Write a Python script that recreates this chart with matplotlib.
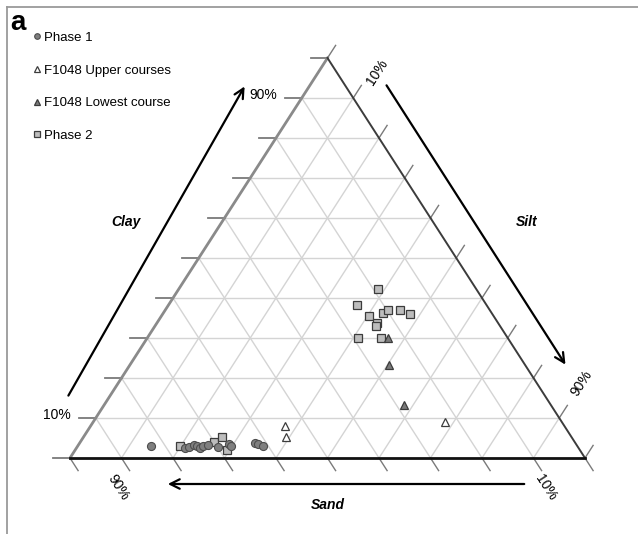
import numpy as np
import matplotlib
matplotlib.use("Agg")
import matplotlib.pyplot as plt
from matplotlib.lines import Line2D

plt.rcParams['font.family'] = ['Liberation Sans', 'DejaVu Sans']

# compositions in % (clay, silt, sand)
phase1_clay = [3.0, 2.4, 2.7, 3.2, 3.0, 2.4, 3.1, 3.3, 2.8, 3.5, 2.9, 3.8, 3.4, 3.0]
phase1_silt = [14.2, 21.1, 21.8, 22.4, 23.2, 24.0, 24.3, 25.2, 27.4, 29.1, 29.8, 34.1, 34.9, 35.9]
phase1_sand = [82.8, 76.5, 75.5, 74.4, 73.8, 73.6, 72.6, 71.5, 69.8, 67.4, 67.3, 62.1, 61.7, 61.1]

upper_clay = [8.0, 5.2, 9.0]
upper_silt = [37.8, 39.3, 68.3]
upper_sand = [54.2, 55.5, 22.7]

lowest_clay = [30.0, 23.3, 13.3]
lowest_silt = [46.7, 50.3, 58.3]
lowest_sand = [23.3, 26.4, 28.4]

phase2_clay = [3.1, 4.1, 5.3, 1.9, 42.3, 38.2, 35.5, 36.2, 37.1, 37.1, 36.0, 33.7, 33.1, 30.1, 29.9]
phase2_silt = [19.9, 25.9, 26.8, 29.5, 38.7, 36.6, 40.4, 42.6, 43.2, 45.6, 48.0, 42.7, 42.8, 40.8, 45.4]
phase2_sand = [77.0, 70.0, 67.9, 68.6, 19.0, 25.2, 24.1, 21.2, 19.7, 17.3, 16.0, 23.6, 24.1, 29.1, 24.7]


def tern(clay, silt, sand):
    clay = np.asarray(clay, float)
    silt = np.asarray(silt, float)
    sand = np.asarray(sand, float)
    tot = clay + silt + sand
    x = silt / tot + 0.5 * clay / tot
    y = clay / tot
    return x, y


W, H = 638, 534
fig = plt.figure(figsize=(W / 100, H / 100), dpi=100)
# triangle spans px 70..585 horizontally and 58..458 vertically
ax = fig.add_axes([70 / W, (H - 458) / H, 515 / W, 400 / H])
ax.set_xlim(0, 1)
ax.set_ylim(0, 1)
ax.axis('off')

grid_c = '#d4d4d4'
tick_c = '#7a7a7a'
tl = 0.0315  # tick length along slanted directions
for k in np.arange(0, 11) / 10.0:
    if 0 < k < 1:
        # constant clay
        ax.plot([k / 2, 1 - k / 2], [k, k], color=grid_c, lw=1, zorder=1)
        # constant sand (parallel to right edge)
        ax.plot([1 - k, (1 - k) / 2], [0, 1 - k], color=grid_c, lw=1, zorder=1)
        # constant silt (parallel to left edge)
        ax.plot([k, k + (1 - k) / 2], [0, 1 - k], color=grid_c, lw=1, zorder=1)
    # clay ticks on the left
    ax.plot([k / 2 - 0.033, k / 2], [k, k], color=tick_c, lw=1.3, clip_on=False, zorder=2)
    # silt ticks on the right
    xr = k + (1 - k) / 2
    ax.plot([xr, xr + tl / 2], [1 - k, 1 - k + tl], color=tick_c, lw=1, clip_on=False, zorder=2)
    # sand ticks at the bottom
    ax.plot([1 - k, 1 - k + tl / 2], [0, -tl], color=tick_c, lw=1, clip_on=False, zorder=2)

# triangle edges
ax.plot([0, 0.5], [0, 1], color='#8a8a8a', lw=2, clip_on=False, zorder=3)
ax.plot([0.5, 1], [1, 0], color='#3c3c3c', lw=1.4, clip_on=False, zorder=3)
ax.plot([0, 1], [0, 0], color='#111111', lw=2, clip_on=False, zorder=3)

# data
x, y = tern(phase1_clay, phase1_silt, phase1_sand)
ax.plot(x, y, 'o', ms=5.8, mfc='#7f7f7f', mec='#4d4d4d', mew=0.8, ls='none',
        label='Phase 1', clip_on=False, zorder=5)
x, y = tern(upper_clay, upper_silt, upper_sand)
ax.plot(x, y, '^', ms=5.5, mfc='white', mec='#3c3c3c', mew=0.9, ls='none',
        label='F1048 Upper courses', clip_on=False, zorder=5)
x, y = tern(lowest_clay, lowest_silt, lowest_sand)
ax.plot(x, y, '^', ms=5.5, mfc='#7a7a7a', mec='#3c3c3c', mew=0.9, ls='none',
        label='F1048 Lowest course', clip_on=False, zorder=5)
x, y = tern(phase2_clay, phase2_silt, phase2_sand)
ax.plot(x, y, 's', ms=5.8, mfc='#bdbdbd', mec='#3c3c3c', mew=0.9, ls='none',
        label='Phase 2', clip_on=False, zorder=4)

fs = 10
ax.text(0.002, 0.1075, '10%', ha='right', va='center', fontsize=fs)
ax.text(0.402, 0.9075, '90%', ha='right', va='center', fontsize=fs)
ax.text(0.596, 0.965, '10%', ha='center', va='center', fontsize=fs, rotation=57)
ax.text(0.994, 0.1875, '90%', ha='center', va='center', fontsize=fs, rotation=57)
ax.text(0.093, -0.073, '90%', ha='center', va='center', fontsize=fs, rotation=-57)
ax.text(0.924, -0.073, '10%', ha='center', va='center', fontsize=fs, rotation=-57)

ax.text(0.1087, 0.59, 'Clay', ha='center', va='center', fontsize=fs,
        fontweight='bold', fontstyle='italic')
ax.text(0.887, 0.59, 'Silt', ha='center', va='center', fontsize=fs,
        fontweight='bold', fontstyle='italic')
ax.text(0.501, -0.1175, 'Sand', ha='center', va='center', fontsize=fs,
        fontweight='bold', fontstyle='italic')

arw = dict(arrowstyle='->', color='black', lw=1.6, mutation_scale=17)
ax.annotate('', xy=(0.3417, 0.935), xytext=(-0.0058, 0.15), arrowprops=arw,
            annotation_clip=False)
ax.annotate('', xy=(0.965, 0.2275), xytext=(0.6117, 0.9375), arrowprops=arw,
            annotation_clip=False)
ax.annotate('', xy=(0.1845, -0.065), xytext=(0.8874, -0.065), arrowprops=arw,
            annotation_clip=False)

leg = ax.legend(loc='upper left', bbox_to_anchor=(26 / W, 1 - 25 / H),
                bbox_transform=fig.transFigure, frameon=False, fontsize=9.5,
                handlelength=0.6, handletextpad=0.3, labelspacing=1.55,
                borderpad=0, markerscale=0.7)

fig.text(18 / W, 1 - 23 / H, 'a', ha='center', va='center', fontsize=20,
         fontweight='bold')

# panel frame (top and left edges)
fig.add_artist(Line2D([7 / W, 1], [1 - 7 / H, 1 - 7 / H], color='#9a9a9a', lw=1.3,
                      transform=fig.transFigure))
fig.add_artist(Line2D([7 / W, 7 / W], [0, 1 - 7 / H], color='#9a9a9a', lw=1.3,
                      transform=fig.transFigure))

fig.savefig('out.png', dpi=100)
